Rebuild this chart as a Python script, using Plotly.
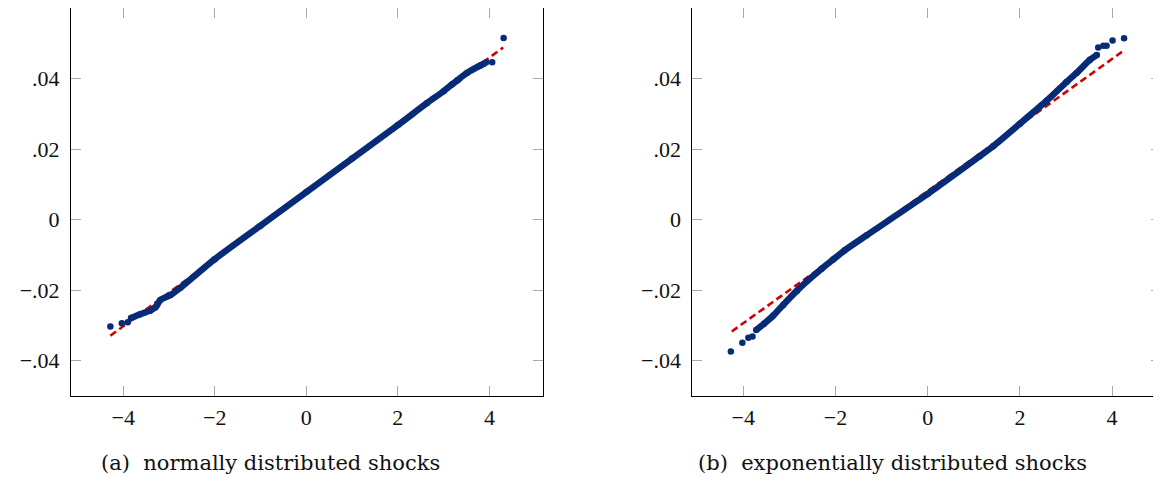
import plotly.graph_objects as go

# ---------------- data ----------------
# Panel (a): normally distributed shocks
a_band_x = [-3.83, -3.63, -3.41, -3.30, -3.26, -3.19, -2.97, -2.75, -2.0, -1.0, 0.0,
            1.0, 2.0, 2.64, 3.0, 3.18, 3.3, 3.51, 3.80, 3.88]
a_band_y = [-0.0279, -0.0268, -0.0258, -0.0249, -0.0242, -0.0228, -0.0214, -0.0193,
            -0.0112, -0.0017, 0.0078, 0.0173, 0.0268, 0.0331, 0.0364, 0.0383, 0.0395,
            0.0416, 0.0437, 0.0442]
a_tail_x = [-4.28, -4.03, -3.90, 3.93, 4.06, 4.31]
a_tail_y = [-0.0303, -0.0294, -0.0291, 0.0446, 0.0446, 0.0515]
a_ref_x = [-4.28, 4.30]
a_ref_y = [-0.0329, 0.0488]

# Panel (b): exponentially distributed shocks
b_band_x = [-3.72, -3.55, -3.35, -3.13, -2.84, -2.62, -2.30, -2.05, -1.80, -1.32, 0.0,
            1.13, 1.42, 2.0, 2.58, 3.01, 3.23, 3.52, 3.67]
b_band_y = [-0.0313, -0.0295, -0.0272, -0.0241, -0.0202, -0.0175, -0.0139, -0.0113,
            -0.0087, -0.0044, 0.0073, 0.0180, 0.0208, 0.0272, 0.0337, 0.0390, 0.0416,
            0.0453, 0.0467]
b_tail_x = [-4.27, -4.02, -3.89, -3.80, 3.70, 3.81, 3.88, 4.01, 4.26]
b_tail_y = [-0.0374, -0.0349, -0.0335, -0.0331, 0.0488, 0.0493, 0.0493, 0.0508, 0.0514]
b_ref_x = [-4.25, 4.24]
b_ref_y = [-0.0317, 0.0478]

x_tick_vals = [-4, -2, 0, 2, 4]
x_tick_text = ["\u22124", "\u22122", "0", "2", "4"]
y_tick_vals = [0.04, 0.02, 0.0, -0.02, -0.04]
y_tick_text = [".04", ".02", "0", "\u2212.02", "\u2212.04"]
captions = ["(a)\u00a0\u00a0normally distributed shocks",
            "(b)\u00a0\u00a0exponentially distributed shocks"]

# ---------------- styles ----------------
BLUE = "#082b78"
RED = "#d00000"
TICKFONT = dict(family="'Liberation Serif', 'Times New Roman', serif", size=22,
                color="#111111")

fig = go.Figure()

panels = [
    (a_band_x, a_band_y, a_tail_x, a_tail_y, a_ref_x, a_ref_y, "x", "y"),
    (b_band_x, b_band_y, b_tail_x, b_tail_y, b_ref_x, b_ref_y, "x2", "y2"),
]
for bx, by, tx, ty, rx, ry, xa, ya in panels:
    fig.add_trace(go.Scatter(x=rx, y=ry, mode="lines", xaxis=xa, yaxis=ya,
                             line=dict(color=RED, width=2.6, dash="7px,4px"),
                             showlegend=False, hoverinfo="skip"))
    fig.add_trace(go.Scatter(x=bx, y=by, mode="lines+markers", xaxis=xa, yaxis=ya,
                             line=dict(color=BLUE, width=6.5, shape="spline", smoothing=0.6),
                             marker=dict(color=BLUE, size=6.5),
                             showlegend=False))
    fig.add_trace(go.Scatter(x=tx, y=ty, mode="markers", xaxis=xa, yaxis=ya,
                             marker=dict(color=BLUE, size=6.5),
                             showlegend=False))

# the page body has an 8px margin; work in figure pixels = window pixels - 8
OFF = 8
W, H = 1161 - OFF, 478 - OFF
common_x = dict(showgrid=False, zeroline=False, showline=True, mirror="ticks",
                linecolor="#000000", linewidth=1, ticks="inside", ticklen=10,
                tickcolor="#aaaaaa", tickwidth=1, tickvals=x_tick_vals,
                ticktext=x_tick_text, tickfont=TICKFONT, ticklabelstandoff=2)
common_y = dict(showgrid=False, zeroline=False, showline=True, mirror="ticks",
                linecolor="#000000", linewidth=1, ticks="inside", ticklen=10,
                tickcolor="#aaaaaa", tickwidth=1, tickvals=y_tick_vals,
                ticktext=y_tick_text, tickfont=TICKFONT, range=[-0.05, 0.06],
                ticklabelstandoff=6)

y_dom = [1 - (396 - OFF) / H, 1 - (4.5 - OFF) / H]
y_dom[1] = min(1.0, y_dom[1])
fig.update_layout(
    width=W, height=H, margin=dict(l=0, r=0, t=0, b=0),
    paper_bgcolor="white", plot_bgcolor="white",
    xaxis=dict(common_x, domain=[(71 - OFF) / W, (543 - OFF) / W], range=[-5.14, 5.17],
               anchor="y"),
    yaxis=dict(common_y, domain=y_dom, anchor="x"),
    xaxis2=dict(common_x, domain=[(692.3 - OFF) / W, 1.0], range=[-5.106, 5.061],
                anchor="y2"),
    yaxis2=dict(common_y, domain=y_dom, anchor="x2"),
)

cap_x = [(270.8 - OFF) / W, (892.5 - OFF) / W]
for cx, txt in zip(cap_x, captions):
    fig.add_annotation(x=cx, y=1 - (463 - OFF) / H, xref="paper", yref="paper", text=txt,
                       showarrow=False, xanchor="center", yanchor="middle",
                       font=dict(family="'DejaVu Serif', serif", size=21, color="#111111"))

fig.write_html("out.html")
